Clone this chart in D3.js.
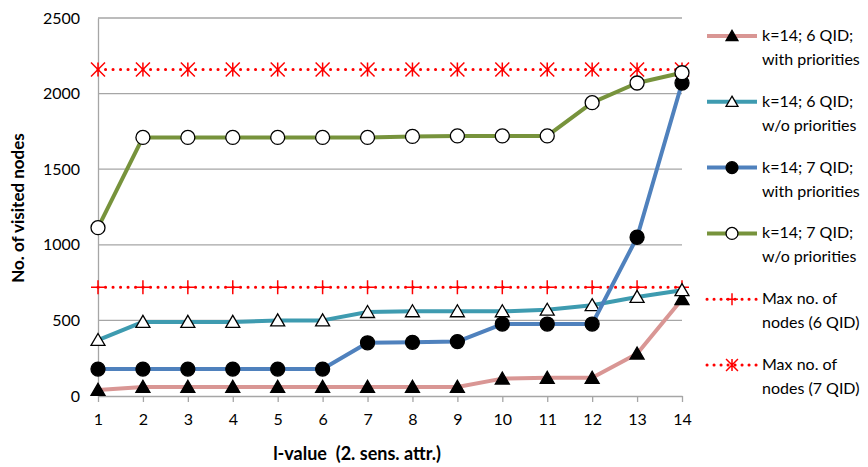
<!DOCTYPE html>
<html>
<head>
<meta charset="utf-8">
<script src="https://cdn.jsdelivr.net/npm/d3@7"></script>
<style>
  body { margin: 0; background: #fff; }
  text { font-family: Lato, "Open Sans", sans-serif; fill: #000; }
</style>
</head>
<body>
<svg id="chart" width="868" height="467"></svg>
<script>
// l-value categories
var lValues = [1, 2, 3, 4, 5, 6, 7, 8, 9, 10, 11, 12, 13, 14];

var qid6With = [40, 60, 60, 60, 60, 60, 60, 60, 60, 115, 120, 120, 280, 640];
var qid6Without = [370, 490, 490, 490, 500, 500, 555, 560, 560, 560, 570, 600, 655, 700];
var qid7With = [178, 178, 178, 178, 178, 178, 352, 355, 360, 476, 476, 476, 1050, 2070];
var qid7Without = [1113, 1710, 1710, 1710, 1710, 1710, 1710, 1717, 1720, 1720, 1720, 1940, 2070, 2138];
var max6 = [720, 720, 720, 720, 720, 720, 720, 720, 720, 720, 720, 720, 720, 720];
var max7 = [2160, 2160, 2160, 2160, 2160, 2160, 2160, 2160, 2160, 2160, 2160, 2160, 2160, 2160];

var yTicks = [0, 500, 1000, 1500, 2000, 2500];

var series = [
  { name: ["k=14; 6 QID;", "with priorities"], values: qid6With, color: "#d99694", marker: "triangle", fill: "#000", dotted: false },
  { name: ["k=14; 6 QID;", "w/o priorities"], values: qid6Without, color: "#3e9bb0", marker: "triangle", fill: "#fff", dotted: false },
  { name: ["k=14; 7 QID;", "with priorities"], values: qid7With, color: "#4f81bd", marker: "circle", fill: "#000", dotted: false },
  { name: ["k=14; 7 QID;", "w/o priorities"], values: qid7Without, color: "#77933c", marker: "circle", fill: "#fff", dotted: false },
  { name: ["Max no. of", "nodes (6 QID)"], values: max6, color: "#ff0000", marker: "plus", dotted: true },
  { name: ["Max no. of", "nodes (7 QID)"], values: max7, color: "#ff0000", marker: "star", dotted: true }
];

var svg = d3.select("#chart");

var x = d3.scaleLinear().domain([1, 14]).range([98, 682]);
var y = d3.scaleLinear().domain([0, 2500]).range([396, 18]);

// gridlines
svg.append("g").selectAll("line")
  .data(yTicks.filter(function (d) { return d > 0; }))
  .enter().append("line")
  .attr("x1", x(1)).attr("x2", x(14))
  .attr("y1", function (d) { return y(d); })
  .attr("y2", function (d) { return y(d); })
  .attr("stroke", "#a6a6a6").attr("stroke-width", 1.3);

// y axis
var yAxis = svg.append("g")
  .attr("transform", "translate(" + x(1) + ",0)")
  .call(d3.axisLeft(y).tickValues(yTicks).tickSize(0).tickPadding(18).tickFormat(d3.format("d")));
yAxis.select(".domain").attr("stroke", "#a6a6a6").attr("stroke-width", 1.3);
yAxis.selectAll("text").style("font-size", "16px").style("font-family", "Lato, sans-serif");

// x axis
var xAxis = svg.append("g")
  .attr("transform", "translate(0," + y(0) + ")")
  .call(d3.axisBottom(x).tickValues(lValues).tickSize(6).tickSizeOuter(0).tickPadding(12).tickFormat(d3.format("d")));
xAxis.select(".domain").attr("stroke", "#a6a6a6").attr("stroke-width", 1.3);
xAxis.selectAll("line").attr("stroke", "#a6a6a6").attr("stroke-width", 1.3);
xAxis.selectAll("text").style("font-size", "16px").style("font-family", "Lato, sans-serif");

// axis titles
svg.append("text")
  .attr("transform", "translate(24,208) rotate(-90)")
  .attr("text-anchor", "middle")
  .style("font-size", "17px").style("font-weight", "bold")
  .text("No. of visited nodes");

svg.append("text")
  .attr("x", 357).attr("y", 460)
  .attr("text-anchor", "middle")
  .style("font-size", "18px").style("font-weight", "bold")
  .style("white-space", "pre")
  .attr("xml:space", "preserve")
  .text("l-value  (2. sens. attr.)");

function drawMarker(g, s, cx, cy, scale) {
  scale = scale || 1;
  if (s.marker === "triangle") {
    var w = 7 * scale, h = 12 * scale;
    g.append("path")
      .attr("d", "M" + cx + "," + (cy - h * 0.55) + "L" + (cx + w) + "," + (cy + h * 0.45) + "L" + (cx - w) + "," + (cy + h * 0.45) + "Z")
      .attr("fill", s.fill).attr("stroke", "#000").attr("stroke-width", 1.3);
  } else if (s.marker === "circle") {
    g.append("circle")
      .attr("cx", cx).attr("cy", cy).attr("r", 7 * scale)
      .attr("fill", s.fill).attr("stroke", "#000").attr("stroke-width", 1.3);
  } else if (s.marker === "plus") {
    var r = 7 * scale;
    g.append("path")
      .attr("d", "M" + (cx - r) + "," + cy + "H" + (cx + r) + "M" + cx + "," + (cy - r) + "V" + (cy + r))
      .attr("stroke", s.color).attr("stroke-width", 1.5).attr("fill", "none");
  } else if (s.marker === "star") {
    var r2 = 7 * scale;
    g.append("path")
      .attr("d", "M" + (cx - r2) + "," + (cy - r2) + "L" + (cx + r2) + "," + (cy + r2) +
        "M" + (cx + r2) + "," + (cy - r2) + "L" + (cx - r2) + "," + (cy + r2) +
        "M" + cx + "," + (cy - r2) + "V" + (cy + r2))
      .attr("stroke", s.color).attr("stroke-width", 1.5).attr("fill", "none");
  }
}

var line = d3.line()
  .x(function (d, i) { return x(lValues[i]); })
  .y(function (d) { return y(d); });

// draw order: max lines behind
var order = [4, 5, 0, 1, 2, 3];
order.forEach(function (k) {
  var s = series[k];
  var g = svg.append("g");
  g.append("path")
    .datum(s.values)
    .attr("d", line)
    .attr("fill", "none")
    .attr("stroke", s.color)
    .attr("stroke-width", s.dotted ? 3 : 4)
    .attr("stroke-linecap", s.dotted ? "round" : "butt")
    .attr("stroke-linejoin", "round")
    .attr("stroke-dasharray", s.dotted ? "0.1,7.4" : null);
  s.values.forEach(function (v, i) {
    drawMarker(g, s, x(lValues[i]), y(v));
  });
});

// legend
var legend = svg.append("g");
series.forEach(function (s, i) {
  var ly = 36 + i * 65.8;
  var g = legend.append("g");
  g.append("line")
    .attr("x1", 707).attr("x2", 757)
    .attr("y1", ly).attr("y2", ly)
    .attr("stroke", s.color)
    .attr("stroke-width", s.dotted ? 3 : 4)
    .attr("stroke-linecap", s.dotted ? "round" : "butt")
    .attr("stroke-dasharray", s.dotted ? "0.1,6.9" : null);
  drawMarker(g, s, 732, ly, 0.85);
  s.name.forEach(function (t, j) {
    g.append("text")
      .attr("x", 762).attr("y", ly + j * 24 + 5)
      .style("font-size", "16px")
      .text(t);
  });
});
</script>
</body>
</html>
